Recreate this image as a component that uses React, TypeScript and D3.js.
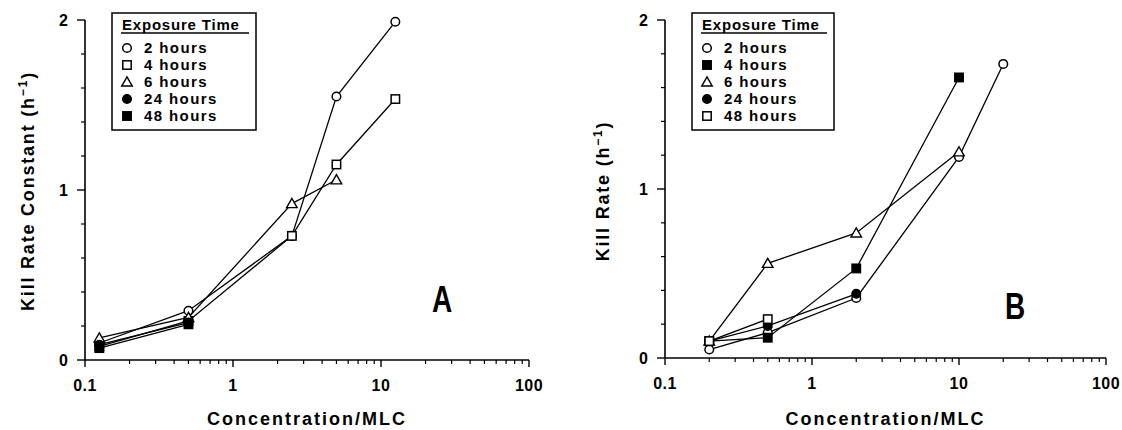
import React from "react";
import * as d3 from "d3";

// x tick labels and y ticks (shared by both panels)
const xTickValues = [0.1, 1, 10, 100];
const xTickLabels = ["0.1", "1", "10", "100"];
const yTickValues = [0, 1, 2];
const exposureLabels = ["2 hours", "4 hours", "6 hours", "24 hours", "48 hours"];

// panel A
const concA = [0.125, 0.5, 2.5, 5, 12.5];
const killA2h = [0.1, 0.29, 0.73, 1.55, 1.99];
const killA4h = [0.08, 0.23, 0.73, 1.15, 1.535];
const killA6h = [0.13, 0.25, 0.92, 1.06];
const killA24h = [0.09, 0.22];
const killA48h = [0.07, 0.21];
const markersA = ["circle", "square", "triangle", "circleFill", "squareFill"];

// panel B
const concB = [0.2, 0.5, 2, 10, 20];
const killB2h = [0.05, 0.15, 0.355, 1.19, 1.74];
const killB4h = [0.1, 0.12, 0.53, 1.66];
const killB6h = [0.1, 0.56, 0.74, 1.22];
const killB24h = [0.1, 0.19, 0.38];
const killB48h = [0.1, 0.23];
const markersB = ["circle", "squareFill", "triangle", "circleFill", "square"];

const FONT = "'Liberation Sans', Arial, sans-serif";

const Marker = ({ kind, x, y }) => {
  const fill = kind.endsWith("Fill") ? "#000" : "#fff";
  if (kind.startsWith("circle")) {
    return <circle cx={x} cy={y} r={4.3} fill={fill} stroke="#000" strokeWidth={1.5} />;
  }
  if (kind.startsWith("square")) {
    return <rect x={x - 4.2} y={y - 4.2} width={8.4} height={8.4} fill={fill} stroke="#000" strokeWidth={1.5} />;
  }
  const tri = d3.symbol().type(d3.symbolTriangle).size(48)();
  return <path d={tri} transform={`translate(${x},${y + 1})`} fill={fill} stroke="#000" strokeWidth={1.4} />;
};

const Panel = ({ conc, series, markers, left, right, bottom, top, yLabel, yLabelX, letter, letterX, letterY, legendX, legendW }) => {
  const x = d3.scaleLog().domain([0.1, 100]).range([left, right]);
  const y = d3.scaleLinear().domain([0, 2]).range([bottom, top]);
  const minorX = [];
  [0.1, 1, 10].forEach(d => { for (let k = 2; k <= 9; k++) minorX.push(d * k); });
  const minorY = d3.range(0, 2.01, 0.2).filter(v => Math.abs(v - Math.round(v)) > 0.01);
  const line = d3.line().x(d => x(d[0])).y(d => y(d[1]));
  const legendTop = 13;

  return (
    <g fontFamily={FONT} fontWeight="bold">
      {/* axes */}
      <line x1={left} x2={left} y1={top} y2={bottom} stroke="#000" strokeWidth={1.6} />
      <line x1={left} x2={right} y1={bottom} y2={bottom} stroke="#000" strokeWidth={1.6} />
      {yTickValues.map(v => (
        <g key={"y" + v}>
          <line x1={left - 8} x2={left} y1={y(v)} y2={y(v)} stroke="#000" strokeWidth={1.4} />
          <text x={left - 17} y={y(v) + 6} textAnchor="end" fontSize={16}>{v}</text>
        </g>
      ))}
      {minorY.map(v => (
        <line key={"my" + v} x1={left - 4} x2={left} y1={y(v)} y2={y(v)} stroke="#000" strokeWidth={1.2} />
      ))}
      {xTickValues.map((v, i) => (
        <g key={"x" + v}>
          <line x1={x(v)} x2={x(v)} y1={bottom} y2={bottom + 7} stroke="#000" strokeWidth={1.4} />
          <text x={x(v)} y={bottom + 31} textAnchor="middle" fontSize={16} letterSpacing={0.5}>{xTickLabels[i]}</text>
        </g>
      ))}
      {minorX.map(v => (
        <line key={"mx" + v} x1={x(v)} x2={x(v)} y1={bottom} y2={bottom + 4} stroke="#000" strokeWidth={1.2} />
      ))}
      <text x={(left + right) / 2} y={425} textAnchor="middle" fontSize={18} letterSpacing={2}>Concentration/MLC</text>
      <text transform={`translate(${yLabelX},191) rotate(-90)`} textAnchor="middle" fontSize={18} letterSpacing={1.8}>
        {yLabel} (h<tspan dy={-7} fontSize={12}>−1</tspan><tspan dy={7}>)</tspan>
      </text>

      {/* series */}
      {series.map((vals, si) => {
        const pts = vals.map((v, i) => [conc[i], v]);
        return (
          <g key={"s" + si}>
            <path d={line(pts)} fill="none" stroke="#000" strokeWidth={1.3} />
            {pts.map((p, i) => <Marker key={i} kind={markers[si]} x={x(p[0])} y={y(p[1])} />)}
          </g>
        );
      })}

      {/* legend */}
      <rect x={legendX} y={legendTop} width={legendW} height={117} fill="#fff" stroke="#000" strokeWidth={1.5} />
      <text x={legendX + 10} y={legendTop + 17} fontSize={15} letterSpacing={0.8} style={{ fontWeight: 600 }}>Exposure Time</text>
      <line x1={legendX + 9} x2={legendX + legendW - 7} y1={legendTop + 20} y2={legendTop + 20} stroke="#000" strokeWidth={1.3} />
      {exposureLabels.map((lab, i) => (
        <g key={lab}>
          <Marker kind={markers[i]} x={legendX + 15} y={legendTop + 35 + i * 17} />
          <text x={legendX + 32} y={legendTop + 40 + i * 17} fontSize={15} letterSpacing={1.4}>{lab}</text>
        </g>
      ))}

      <text transform={`translate(${letterX},${letterY}) scale(1,1.3)`} textAnchor="middle" fontSize={28} fontWeight="900">{letter}</text>
    </g>
  );
};

const App = () => (
  <svg width={1122} height={430} style={{ position: "absolute", left: 0, top: 0, background: "#fff" }}>
    <Panel
      conc={concA}
      series={[killA2h, killA4h, killA6h, killA24h, killA48h]}
      markers={markersA}
      left={85} right={529} bottom={360} top={20}
      yLabel="Kill Rate Constant" yLabelX={34}
      letter="A" letterX={442} letterY={312}
      legendX={112} legendW={144}
    />
    <Panel
      conc={concB}
      series={[killB2h, killB4h, killB6h, killB24h, killB48h]}
      markers={markersB}
      left={665} right={1106} bottom={358} top={20}
      yLabel="Kill Rate" yLabelX={609}
      letter="B" letterX={1015} letterY={319}
      legendX={692} legendW={142}
    />
  </svg>
);

export default App;
